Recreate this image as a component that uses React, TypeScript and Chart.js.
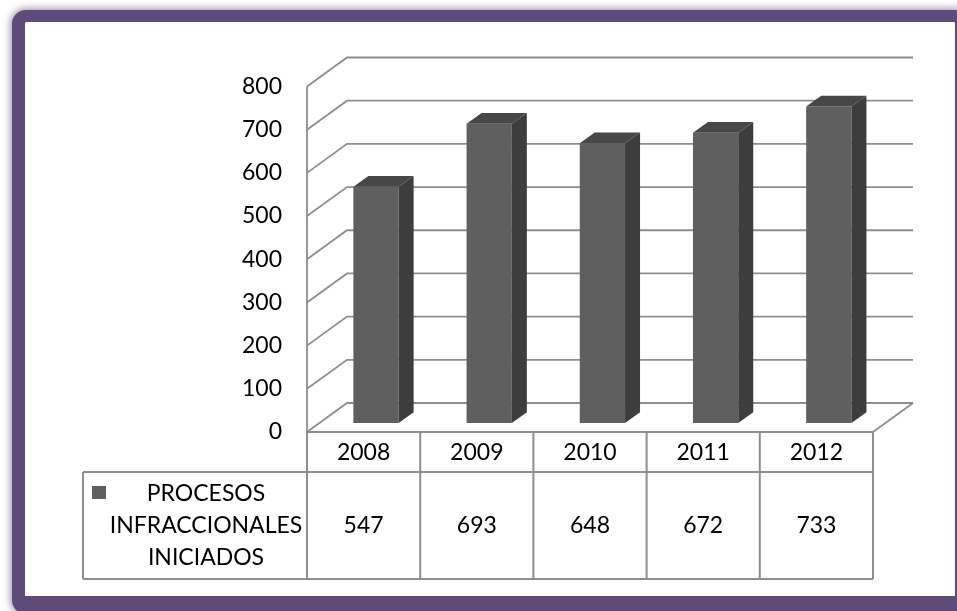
import React, { useEffect, useRef } from "react";
import { Chart, registerables } from "chart.js";

Chart.register(...registerables);

// ---- data ----
const categories = ["2008", "2009", "2010", "2011", "2012"];
const values = [547, 693, 648, 672, 733];
const seriesLines = ["PROCESOS", "INFRACCIONALES", "INICIADOS"];
const yMin = 0;
const yMax = 800;
const yStep = 100;

// ---- style ----
const FONT = "Lato, 'Open Sans', sans-serif";
const FONT_SIZE = 23;
const BAR_FRONT = "#5f5f5f";
const BAR_SIDE = "#3d3d3d";
const BAR_TOP = "#474747";
const GRID = "#8e8e8e";
const TABLE_LINE = "#8e8e8e";
const PURPLE = "rgb(94,75,122)";

// 3D geometry
const WALL_DX = 40;
const WALL_DY = 29;
const BAR_OFF_DX = 12.4;
const BAR_OFF_DY = 9;
const BAR_DX = 15;
const BAR_DY = 10.7;

// table geometry
const HEADER_H = 40;
const TABLE_BOTTOM = 579;
const LEGEND_LEFT = 83;

const threeD = {
  id: "threeD",
  beforeDatasetsDraw(chart: any) {
    const { ctx, chartArea, scales } = chart;
    const { left, right, bottom } = chartArea;
    const y = scales.y;
    ctx.save();
    ctx.strokeStyle = GRID;
    ctx.lineWidth = 1.8;
    ctx.lineCap = "butt";
    for (let v = yMin; v <= yMax; v += yStep) {
      const py = y.getPixelForValue(v);
      ctx.beginPath();
      ctx.moveTo(left, py);
      ctx.lineTo(left + WALL_DX, py - WALL_DY);
      ctx.lineTo(right + WALL_DX, py - WALL_DY);
      ctx.stroke();
    }
    // left axis
    ctx.beginPath();
    ctx.moveTo(left, y.getPixelForValue(yMax));
    ctx.lineTo(left, bottom);
    ctx.stroke();
    // floor right diagonal
    ctx.beginPath();
    ctx.moveTo(right, bottom);
    ctx.lineTo(right + WALL_DX, bottom - WALL_DY);
    ctx.stroke();
    ctx.restore();
    ctx.save();
    ctx.translate(BAR_OFF_DX, -BAR_OFF_DY);
  },
  afterDatasetsDraw(chart: any) {
    const { ctx } = chart;
    const meta = chart.getDatasetMeta(0);
    meta.data.forEach((bar: any) => {
      const p = bar.getProps(["x", "y", "base", "width"], true);
      const x1 = p.x - p.width / 2;
      const x2 = p.x + p.width / 2;
      const top = p.y;
      const base = p.base;
      // side
      ctx.fillStyle = BAR_SIDE;
      ctx.beginPath();
      ctx.moveTo(x2, top);
      ctx.lineTo(x2 + BAR_DX, top - BAR_DY);
      ctx.lineTo(x2 + BAR_DX, base - BAR_DY);
      ctx.lineTo(x2, base);
      ctx.closePath();
      ctx.fill();
      // top
      ctx.fillStyle = BAR_TOP;
      ctx.beginPath();
      ctx.moveTo(x1, top);
      ctx.lineTo(x1 + BAR_DX, top - BAR_DY);
      ctx.lineTo(x2 + BAR_DX, top - BAR_DY);
      ctx.lineTo(x2, top);
      ctx.closePath();
      ctx.fill();
    });
    ctx.restore();
  },
  afterDraw(chart: any) {
    const { ctx, chartArea, scales } = chart;
    const { left, right, bottom } = chartArea;
    const x = scales.x;
    const n = categories.length;
    const colW = (right - left) / n;
    const rowY = bottom + HEADER_H;
    ctx.save();
    ctx.strokeStyle = TABLE_LINE;
    ctx.lineWidth = 2;
    // header top (floor front edge)
    ctx.beginPath();
    ctx.moveTo(left, bottom);
    ctx.lineTo(right, bottom);
    ctx.stroke();
    // verticals
    for (let i = 0; i <= n; i++) {
      const px = left + i * colW;
      ctx.beginPath();
      ctx.moveTo(px, bottom);
      ctx.lineTo(px, TABLE_BOTTOM);
      ctx.stroke();
    }
    // row lines
    ctx.beginPath();
    ctx.moveTo(LEGEND_LEFT, rowY);
    ctx.lineTo(right, rowY);
    ctx.moveTo(LEGEND_LEFT, TABLE_BOTTOM);
    ctx.lineTo(right, TABLE_BOTTOM);
    ctx.moveTo(LEGEND_LEFT, rowY);
    ctx.lineTo(LEGEND_LEFT, TABLE_BOTTOM);
    ctx.stroke();

    ctx.fillStyle = "#000";
    ctx.font = `${FONT_SIZE}px ${FONT}`;
    ctx.textAlign = "center";
    ctx.textBaseline = "middle";
    const headY = bottom + HEADER_H / 2;
    const valY = (rowY + TABLE_BOTTOM) / 2;
    categories.forEach((c, i) => {
      const cx = x.getPixelForValue(i);
      ctx.fillText(c, cx, headY + 1);
      ctx.fillText(String(values[i]), cx, valY);
    });
    // legend
    ctx.fillStyle = BAR_FRONT;
    ctx.fillRect(LEGEND_LEFT + 9, rowY + 14, 14, 13);
    ctx.fillStyle = "#000";
    const lx = (LEGEND_LEFT + 20 + left) / 2 + 1;
    const lineH = 32;
    seriesLines.forEach((t, i) => {
      ctx.fillText(t, lx, valY + (i - (seriesLines.length - 1) / 2) * lineH);
    });
    ctx.restore();
  },
};

export default function App() {
  const ref = useRef<HTMLCanvasElement>(null);
  useEffect(() => {
    const canvas = ref.current!;
    const chart = new Chart(canvas, {
      type: "bar",
      data: {
        labels: categories,
        datasets: [
          {
            label: seriesLines.join(" "),
            data: values,
            backgroundColor: BAR_FRONT,
            borderWidth: 0,
            categoryPercentage: 1,
            barPercentage: 0.4,
          },
        ],
      },
      options: {
        responsive: false,
        animation: false,
        layout: { padding: { left: 0, top: 86.5, right: 84, bottom: 179 } },
        plugins: { legend: { display: false }, tooltip: { enabled: false } },
        scales: {
          x: { display: false },
          y: {
            min: yMin,
            max: yMax,
            ticks: {
              stepSize: yStep,
              padding: 25,
              color: "#000",
              font: { family: FONT, size: FONT_SIZE },
            },
            grid: { display: false, drawTicks: false },
            border: { display: false },
            afterFit: (s: any) => {
              s.width = 307;
            },
          },
        },
      },
      plugins: [threeD],
    });
    return () => chart.destroy();
  }, []);

  return (
    <div
      style={{
        position: "fixed",
        left: 0,
        top: 0,
        width: 957,
        height: 611,
        overflow: "hidden",
        background: "#fff",
      }}
    >
      <div
        style={{
          position: "absolute",
          left: 12,
          top: 10,
          width: 968 - 12,
          height: 614 - 10,
          boxSizing: "border-box",
          borderStyle: "solid",
          borderColor: PURPLE,
          borderWidth: "12px 13px 18px 13px",
          borderRadius: 14,
          boxShadow: "0 0 7px 2px rgba(94,75,122,0.55)",
          background: "#fff",
        }}
      />
      <canvas
        ref={ref}
        width={957}
        height={611}
        style={{ position: "absolute", left: 0, top: 0 }}
      />
    </div>
  );
}
